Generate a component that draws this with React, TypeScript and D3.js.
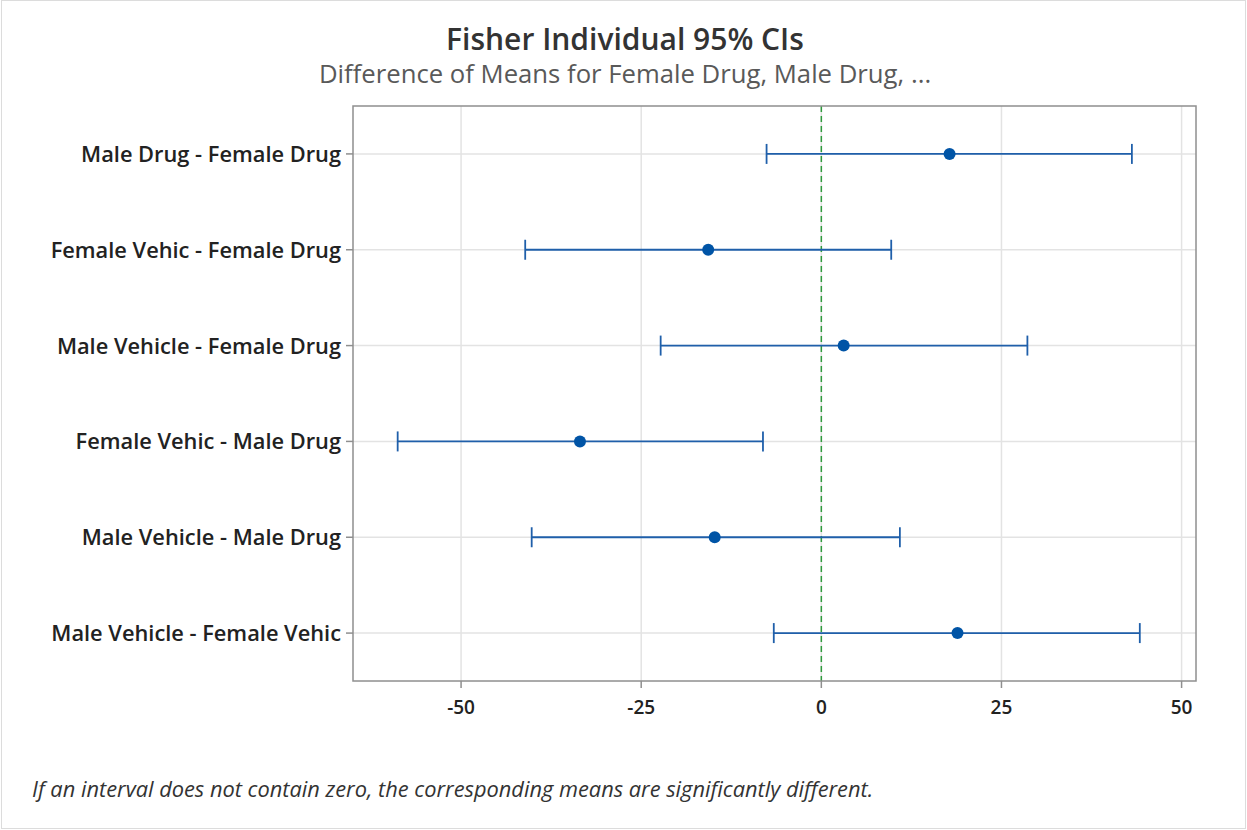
import React from "react";
import * as d3 from "d3";

const categories = [
  "Male Drug - Female Drug",
  "Female Vehic - Female Drug",
  "Male Vehicle - Female Drug",
  "Female Vehic - Male Drug",
  "Male Vehicle - Male Drug",
  "Male Vehicle - Female Vehic",
];
const means = [17.8, -15.7, 3.1, -33.5, -14.8, 18.9];
const lowers = [-7.6, -41.1, -22.3, -58.8, -40.2, -6.6];
const uppers = [43.1, 9.7, 28.6, -8.1, 10.9, 44.2];
const xTicks = [-50, -25, 0, 25, 50];

const W = 1247;
const H = 830;
const M = { left: 353, right: 1196, top: 106, bottom: 681 };

export default function App() {
  const x = d3.scaleLinear().domain([-65, 52]).range([M.left, M.right]);
  const y = d3.scalePoint<string>().domain(categories).range([M.top, M.bottom]).padding(0.5);
  const font = "'Open Sans', 'Noto Sans', sans-serif";
  const blue = "#1f5faa";
  const dot = "#0054a6";
  return (
    <svg width={W} height={H} style={{ position: "absolute", left: 0, top: 0, background: "#fff" }}>
      <rect x={1.5} y={0.5} width={W - 3} height={H - 2} fill="#fff" stroke="#dcdcdc" />
      <text x={625} y={50} textAnchor="middle" fontFamily={font} fontSize={30} fontWeight={600} fill="#333">
        Fisher Individual 95% CIs
      </text>
      <text x={625} y={83} textAnchor="middle" fontFamily={font} fontSize={25.7} fill="#595959">
        Difference of Means for Female Drug, Male Drug, ...
      </text>
      {/* gridlines */}
      {xTicks.map((t) => (
        <line key={"gx" + t} x1={x(t)} x2={x(t)} y1={M.top} y2={M.bottom} stroke="#e3e3e3" strokeWidth={1.5} />
      ))}
      {categories.map((c) => (
        <line key={"gy" + c} x1={M.left} x2={M.right} y1={y(c)} y2={y(c)} stroke="#e3e3e3" strokeWidth={1.5} />
      ))}
      {/* zero reference */}
      <line x1={x(0)} x2={x(0)} y1={M.top} y2={M.bottom} stroke="#2f9a3c" strokeWidth={1.5} strokeDasharray="6,4" />
      {/* frame */}
      <rect x={M.left} y={M.top} width={M.right - M.left} height={M.bottom - M.top} fill="none" stroke="#8f8f8f" strokeWidth={1.5} />
      {/* y ticks and labels */}
      {categories.map((c) => (
        <g key={"yl" + c}>
          <line x1={M.left - 7} x2={M.left} y1={y(c)} y2={y(c)} stroke="#8f8f8f" strokeWidth={1.5} />
          <text x={M.left - 12} y={(y(c) as number) + 8} textAnchor="end" fontFamily={font} fontSize={21.8} fontWeight={600} fill="#222">
            {c}
          </text>
        </g>
      ))}
      {/* x ticks and labels */}
      {xTicks.map((t) => (
        <g key={"xl" + t}>
          <line x1={x(t)} x2={x(t)} y1={M.bottom} y2={M.bottom + 7} stroke="#8f8f8f" strokeWidth={1.5} />
          <text x={x(t)} y={M.bottom + 33} textAnchor="middle" fontFamily={font} fontSize={19} fontWeight={600} fill="#222">
            {t}
          </text>
        </g>
      ))}
      {/* intervals */}
      {categories.map((c, i) => {
        const yy = y(c) as number;
        return (
          <g key={"ci" + c}>
            <line x1={x(lowers[i])} x2={x(uppers[i])} y1={yy} y2={yy} stroke={blue} strokeWidth={1.8} />
            <line x1={x(lowers[i])} x2={x(lowers[i])} y1={yy - 10} y2={yy + 10} stroke={blue} strokeWidth={1.8} />
            <line x1={x(uppers[i])} x2={x(uppers[i])} y1={yy - 10} y2={yy + 10} stroke={blue} strokeWidth={1.8} />
            <circle cx={x(means[i])} cy={yy} r={6} fill={dot} />
          </g>
        );
      })}
      <text x={32} y={797} fontFamily={font} fontSize={21.8} fontStyle="italic" fill="#333">
        If an interval does not contain zero, the corresponding means are significantly different.
      </text>
    </svg>
  );
}
